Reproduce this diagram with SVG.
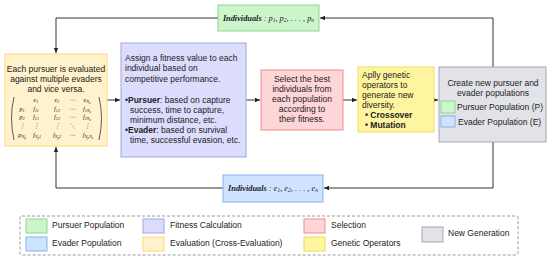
<svg xmlns="http://www.w3.org/2000/svg" width="550" height="260" viewBox="0 0 550 260">
<defs>
<marker id="ah" markerWidth="6" markerHeight="6" refX="5" refY="3" orient="auto" markerUnits="userSpaceOnUse">
<path d="M0,0.8 L5,3 L0,5.2 Z" fill="#222"/>
</marker>
<style>
.t{font-family:"Liberation Sans",Arial,sans-serif;font-size:8.5px;fill:#222}
.c{text-anchor:middle}
.b{font-weight:bold}
.m{font-family:"Liberation Serif","Times New Roman",serif;font-style:italic;font-size:6.3px;fill:#222;text-anchor:middle}
.ind{font-family:"Liberation Serif","Times New Roman",serif;font-style:italic;font-size:8.3px;fill:#222;text-anchor:middle}
.ln{fill:none;stroke:#333;stroke-width:1}
.green{fill:#ccf5cc;stroke:#90d890;stroke-width:1}
.blue{fill:#cfe2ff;stroke:#82b4ef;stroke-width:1}
.evy{fill:#fff2cc;stroke:#ffda70;stroke-width:1}
.pur{fill:#dcdcfc;stroke:#a3a3ee;stroke-width:1}
.red{fill:#ffd6d8;stroke:#f08a8e;stroke-width:1}
.gen{fill:#fff59f;stroke:#efdc60;stroke-width:1}
.gray{fill:#e1e3e8;stroke:#a4a8b0;stroke-width:1}
</style>
</defs>

<g id="connectors">
<path class="ln" d="M218,18 H56 V53" marker-end="url(#ah)"/>
<path class="ln" d="M493,67 V18 H320" marker-end="url(#ah)"/>
<path class="ln" d="M493,142 V188 H324" marker-end="url(#ah)"/>
<path class="ln" d="M223,188 H56 V147" marker-end="url(#ah)"/>
<path class="ln" d="M107,100 H120" marker-end="url(#ah)"/>
<path class="ln" d="M246,100 H260" marker-end="url(#ah)"/>
<path class="ln" d="M343,100 H357" marker-end="url(#ah)"/>
<path class="ln" d="M434,100 H438" marker-end="url(#ah)"/>
</g>

<g id="pursuer-individuals">
<rect class="green" x="218" y="5" width="101" height="26"/>
<text class="ind" x="268.5" y="20.5"><tspan font-weight="bold">Individuals</tspan> : p<tspan font-size="5.5" dy="1.5">1</tspan><tspan dy="-1.5">, p</tspan><tspan font-size="5.5" dy="1.5">2</tspan><tspan dy="-1.5">, . . . , p</tspan><tspan font-size="5.5" dy="1.5">n</tspan></text>
</g>

<g id="evader-individuals">
<rect class="blue" x="223" y="175" width="100" height="27"/>
<text class="ind" x="273" y="190.5"><tspan font-weight="bold">Individuals</tspan> : e<tspan font-size="5.5" dy="1.5">1</tspan><tspan dy="-1.5">, e</tspan><tspan font-size="5.5" dy="1.5">2</tspan><tspan dy="-1.5">, . . . , e</tspan><tspan font-size="5.5" dy="1.5">n</tspan></text>
</g>

<g id="evaluation">
<rect class="evy" x="5" y="54" width="102" height="92"/>
<text class="t c" x="56" y="72">Each pursuer is evaluated</text>
<text class="t c" x="56" y="82">against multiple evaders</text>
<text class="t c" x="56" y="92">and vice versa.</text>
<path d="M14,97 Q9,118 14,140" fill="none" stroke="#333" stroke-width="0.8"/>
<path d="M99,97 Q104,118 99,140" fill="none" stroke="#333" stroke-width="0.8"/>
<text class="m" x="36" y="102">e<tspan font-size="4.2" dy="1">1</tspan></text>
<text class="m" x="57" y="102">e<tspan font-size="4.2" dy="1">2</tspan></text>
<text class="m" x="72" y="102">⋯</text>
<text class="m" x="87" y="102">e<tspan font-size="4.2" dy="1">N<tspan font-size="3.2" dy="0.8">e</tspan></tspan></text>
<text class="m" x="22" y="111">p<tspan font-size="4.2" dy="1">1</tspan></text>
<text class="m" x="36" y="111">f<tspan font-size="4.2" dy="1">11</tspan></text>
<text class="m" x="57" y="111">f<tspan font-size="4.2" dy="1">12</tspan></text>
<text class="m" x="72" y="111">⋯</text>
<text class="m" x="87" y="111">f<tspan font-size="4.2" dy="1">1N<tspan font-size="3.2" dy="0.8">e</tspan></tspan></text>
<text class="m" x="22" y="119">p<tspan font-size="4.2" dy="1">2</tspan></text>
<text class="m" x="36" y="119">f<tspan font-size="4.2" dy="1">21</tspan></text>
<text class="m" x="57" y="119">f<tspan font-size="4.2" dy="1">22</tspan></text>
<text class="m" x="72" y="119">⋯</text>
<text class="m" x="87" y="119">f<tspan font-size="4.2" dy="1">2N<tspan font-size="3.2" dy="0.8">e</tspan></tspan></text>
<text class="m" x="22" y="128">⋮</text>
<text class="m" x="36" y="128">⋮</text>
<text class="m" x="57" y="128">⋮</text>
<text class="m" x="72" y="128">⋱</text>
<text class="m" x="87" y="128">⋮</text>
<text class="m" x="22" y="137">p<tspan font-size="4.2" dy="1">N<tspan font-size="3.2" dy="0.8">p</tspan></tspan></text>
<text class="m" x="37" y="137">f<tspan font-size="4.2" dy="1">N<tspan font-size="3.2" dy="0.8">p</tspan><tspan dy="-0.8">1</tspan></tspan></text>
<text class="m" x="57" y="137">f<tspan font-size="4.2" dy="1">N<tspan font-size="3.2" dy="0.8">p</tspan><tspan dy="-0.8">2</tspan></tspan></text>
<text class="m" x="72" y="137">⋯</text>
<text class="m" x="88" y="137">f<tspan font-size="4.2" dy="1">N<tspan font-size="3.2" dy="0.8">p</tspan><tspan dy="-0.8">N</tspan><tspan font-size="3.2" dy="0.8">e</tspan></tspan></text>
</g>

<g id="fitness">
<rect class="pur" x="121" y="43" width="125" height="114"/>
<text class="t" x="125" y="61">Assign a fitness value to each</text>
<text class="t" x="125" y="71">individual based on</text>
<text class="t" x="125" y="81.5">competitive performance.</text>
<text class="t" x="125" y="103">•<tspan class="b">Pursuer</tspan>: based on capture</text>
<text class="t" x="130" y="113">success, time to capture,</text>
<text class="t" x="130" y="123">minimum distance, etc.</text>
<text class="t" x="125" y="133">•<tspan class="b">Evader</tspan>: based on survival</text>
<text class="t" x="130" y="143">time, successful evasion, etc.</text>
</g>

<g id="selection">
<rect class="red" x="261" y="70" width="82" height="60"/>
<text class="t c" x="302" y="82">Select the best</text>
<text class="t c" x="302" y="92">individuals from</text>
<text class="t c" x="302" y="102">each population</text>
<text class="t c" x="302" y="112">according to</text>
<text class="t c" x="302" y="122">their fitness.</text>
</g>

<g id="genetic">
<rect class="gen" x="358" y="67" width="76" height="65"/>
<text class="t" x="362" y="78">Aplly genetic</text>
<text class="t" x="362" y="88">operators to</text>
<text class="t" x="362" y="98">generate new</text>
<text class="t" x="362" y="107.5">diversity.</text>
<text class="t b" x="365" y="117.5">• Crossover</text>
<text class="t b" x="365" y="127.5">• Mutation</text>
</g>

<g id="new-generation">
<rect class="gray" x="439" y="67" width="107" height="75"/>
<text class="t c" x="493" y="86">Create new pursuer and</text>
<text class="t c" x="493" y="96">evader populations</text>
<rect class="green" x="441" y="101" width="14" height="12"/>
<text class="t" x="457" y="110">Pursuer Population (P)</text>
<rect class="blue" x="441" y="116" width="14" height="11"/>
<text class="t" x="458" y="124.5">Evader Population (E)</text>
</g>

<g id="legend">
<rect x="20" y="216" width="498" height="39" rx="2" fill="none" stroke="#999" stroke-width="1" stroke-dasharray="3,2"/>
<rect class="green" x="26" y="219" width="21" height="14"/>
<text class="t" x="52" y="228">Pursuer Population</text>
<rect class="blue" x="26" y="237" width="21" height="14"/>
<text class="t" x="52" y="246">Evader Population</text>
<rect class="pur" x="143" y="219" width="21" height="14"/>
<text class="t" x="170" y="228">Fitness Calculation</text>
<rect class="evy" x="143" y="237" width="21" height="14"/>
<text class="t" x="170" y="246">Evaluation (Cross-Evaluation)</text>
<rect class="red" x="304" y="219" width="21" height="14"/>
<text class="t" x="331" y="228">Selection</text>
<rect class="gen" x="304" y="237" width="21" height="14"/>
<text class="t" x="331" y="246">Genetic Operators</text>
<rect class="gray" x="422" y="227" width="21" height="15"/>
<text class="t" x="448" y="236">New Generation</text>
</g>
</svg>
